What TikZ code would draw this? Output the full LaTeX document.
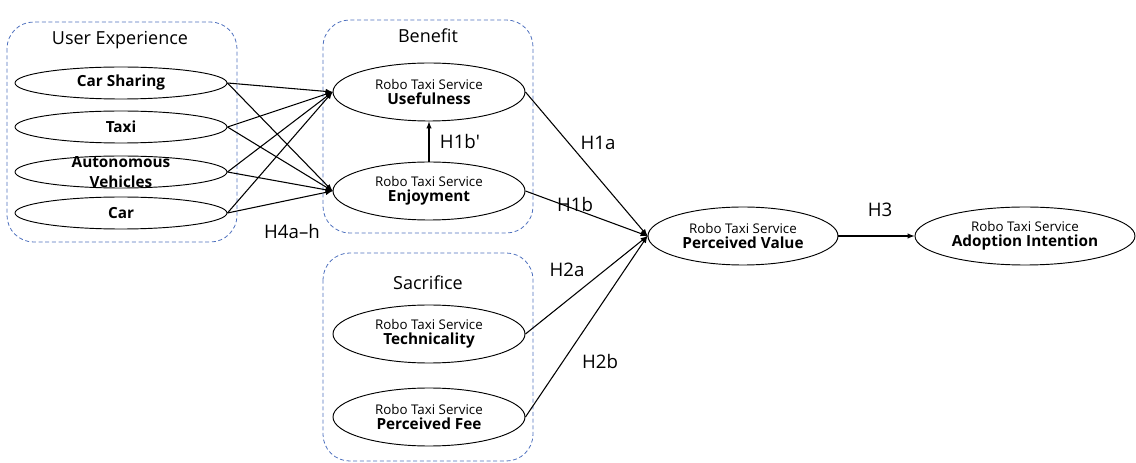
\documentclass[tikz,border=0pt]{standalone}
\usepackage{fontspec}
\setmainfont{Open Sans}
\usetikzlibrary{arrows,shapes.geometric}
\definecolor{groupblue}{RGB}{79,113,190}

\begin{document}
\begin{tikzpicture}[x=0.75pt,y=-0.75pt,
		construct/.style={draw,ellipse,inner sep=0pt,align=center,line width=0.7pt},
		uebox/.style={construct,minimum width=159pt,minimum height=24pt,font=\fontsize{11.5}{15}\selectfont\bfseries},
		rtbox/.style={construct,minimum width=144pt,minimum height=43.5pt},
		group/.style={draw=groupblue,dashed,dash pattern=on 3pt off 2pt,line width=0.6pt,rounded corners=20pt},
		grouptitle/.style={font=\fontsize{13.5}{15}\selectfont},
		hyp/.style={font=\fontsize{14}{15}\selectfont},
		path/.style={draw,-latex,line width=0.8pt}]
		\useasboundingbox (0,0) rectangle (1136,463);
		\newcommand{\rts}[1]{{\fontsize{10}{11}\selectfont Robo Taxi Service}\\[-0.5pt]{\fontsize{11.5}{14}\selectfont\bfseries #1}}
		
		% groups
		\draw[group] (7,22) rectangle (237,242);
		\draw[group] (323,20) rectangle (533,233);
		\draw[group] (323,253) rectangle (533,461);
		\node[grouptitle] (uetitle) at (120,40) {User Experience};
		\node[grouptitle] (bentitle) at (428,36) {Benefit};
		\node[grouptitle] (sactitle) at (428,283) {Sacrifice};
		
		% user experience
		\node[uebox] (cs) at (121,83) {Car Sharing};
		\node[uebox] (taxi) at (121,127) {Taxi};
		\node[uebox,label={[font=\fontsize{11.5}{14.5}\selectfont\bfseries,align=center]center:Autonomous\\Vehicles}] (av) at (121,172) {};
		\node[uebox] (car) at (121,213) {Car};
		
		% robo taxi service constructs
		\node[rtbox] (use) at (429,92) {\rts{Usefulness}};
		\node[rtbox] (enj) at (429,191) {\rts{Enjoyment}};
		\node[rtbox] (tech) at (429,334) {\rts{Technicality}};
		\node[rtbox] (fee) at (429,417) {\rts{Perceived Fee}};
		\node[rtbox,minimum width=142.5pt] (pv) at (743,236) {\rts{Perceived Value}};
		\node[rtbox,minimum width=165pt] (ai) at (1025,236) {\rts{Adoption Intention}};
		
		% paths
		\foreach \src in {cs,taxi,av,car}{
			\path[path] (\src.east) -- (use.west);
			\path[path] (\src.east) -- (enj.west);
		}
		\path[path] (enj.north) -- (use.south);
		\foreach \src in {use,enj,tech,fee}
			\path[path] (\src.east) -- (pv.west);
		\path[path] (pv.east) -- (ai.west);
		
		\node[hyp] (h4) at (292,232) {H4a--h};
		\node[hyp] (h1bp) at (460,142) {H1b\textquotesingle};
		\node[hyp] (h1a) at (598,143) {H1a};
		\node[hyp] (h1b) at (575,205) {H1b};
		\node[hyp] (h2a) at (567,270) {H2a};
		\node[hyp] (h2b) at (600,362) {H2b};
		\node[hyp] (h3) at (880,210) {H3};
	\end{tikzpicture}
\end{document}
